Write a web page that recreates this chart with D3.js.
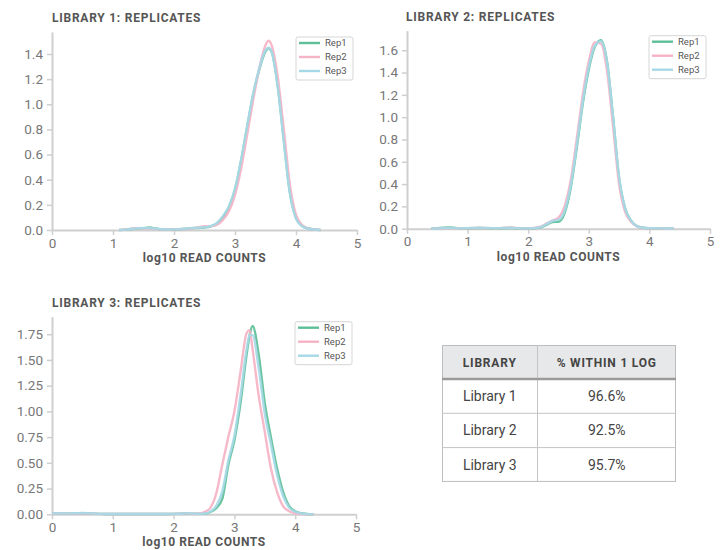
<!DOCTYPE html>
<html><head><meta charset="utf-8">
<script src="https://cdn.jsdelivr.net/npm/d3@7"></script>
<style>
body{margin:0;background:#fff;}
svg text{font-family:Roboto,"DejaVu Sans",sans-serif;}
</style></head><body>
<svg id="c" width="724" height="550"></svg>
<script>
// ---------- DATA ----------
const seriesNames = ["Rep1", "Rep2", "Rep3"];
const seriesColors = ["#5dbf98", "#f5b3c5", "#a6d9e6"];
const xTicks = [0, 1, 2, 3, 4, 5];

// Library 1
const lib1X = [1.1,1.2,1.3,1.4,1.5,1.6,1.7,1.8,1.9,2.0,2.1,2.2,2.3,2.4,2.5,2.6,2.7,2.8,2.9,3.0,3.1,3.2,3.3,3.4,3.5,3.55,3.6,3.7,3.8,3.9,4.0,4.1,4.2,4.3,4.4];
const lib1Rep1 = [0.0,0.003,0.008,0.012,0.014,0.02,0.012,0.005,0.003,0.004,0.006,0.01,0.015,0.016,0.02,0.028,0.05,0.10,0.18,0.32,0.55,0.82,1.08,1.28,1.42,1.445,1.42,1.15,0.72,0.30,0.10,0.035,0.012,0.005,0.0];
const lib1Rep2 = [0.0,0.004,0.01,0.015,0.012,0.01,0.008,0.005,0.004,0.005,0.006,0.008,0.014,0.022,0.03,0.03,0.04,0.08,0.15,0.28,0.49,0.76,1.04,1.29,1.47,1.505,1.47,1.22,0.80,0.36,0.12,0.04,0.012,0.004,0.0];
const lib1Rep3 = [0.0,0.003,0.008,0.013,0.016,0.014,0.01,0.006,0.004,0.005,0.007,0.01,0.016,0.018,0.022,0.03,0.055,0.11,0.19,0.33,0.56,0.83,1.09,1.29,1.43,1.45,1.42,1.14,0.70,0.29,0.09,0.03,0.01,0.004,0.0];
const lib1YTicks = [0,0.2,0.4,0.6,0.8,1.0,1.2,1.4];

// Library 2
const lib2X = [0.4,0.5,0.6,0.7,0.8,0.9,1.0,1.1,1.2,1.3,1.4,1.5,1.6,1.7,1.8,1.9,2.0,2.1,2.2,2.3,2.4,2.5,2.6,2.7,2.8,2.9,3.0,3.1,3.2,3.3,3.4,3.5,3.6,3.7,3.8,3.9,4.0,4.1,4.2,4.3,4.4];
const lib2Rep1 = [0,0.004,0.009,0.011,0.007,0.003,0.003,0.005,0.006,0.005,0.004,0.003,0.004,0.006,0.004,0.002,0.002,0.004,0.012,0.035,0.06,0.062,0.14,0.36,0.72,1.12,1.43,1.63,1.69,1.50,1.00,0.45,0.18,0.07,0.02,0.008,0.005,0.004,0.003,0.002,0];
const lib2Rep2 = [0,0.002,0.004,0.005,0.004,0.003,0.004,0.006,0.007,0.006,0.005,0.005,0.008,0.011,0.007,0.003,0.003,0.006,0.018,0.045,0.072,0.10,0.20,0.43,0.80,1.20,1.50,1.67,1.66,1.42,0.92,0.40,0.15,0.06,0.02,0.007,0.004,0.003,0.002,0.001,0];
const lib2Rep3 = [0,0.002,0.005,0.006,0.004,0.003,0.005,0.007,0.008,0.007,0.005,0.004,0.006,0.008,0.005,0.003,0.003,0.005,0.014,0.04,0.07,0.08,0.16,0.38,0.74,1.14,1.45,1.64,1.68,1.49,1.00,0.46,0.18,0.07,0.02,0.008,0.005,0.004,0.003,0.002,0];
const lib2YTicks = [0,0.2,0.4,0.6,0.8,1.0,1.2,1.4,1.6];

// Library 3
const lib3X = [0.0,0.1,0.2,0.3,0.4,0.5,0.6,0.7,0.8,0.9,1.0,1.1,1.2,1.3,1.4,1.5,1.6,1.7,1.8,1.9,2.0,2.1,2.2,2.3,2.4,2.5,2.6,2.7,2.8,2.9,3.0,3.1,3.2,3.25,3.3,3.4,3.5,3.6,3.7,3.8,3.9,4.0,4.1,4.2,4.3];
const lib3Rep1 = [0.008,0.007,0.006,0.006,0.008,0.01,0.009,0.006,0.004,0.003,0.003,0.003,0.003,0.003,0.003,0.003,0.003,0.003,0.003,0.003,0.004,0.006,0.008,0.006,0.004,0.006,0.02,0.06,0.15,0.48,0.72,1.08,1.55,1.74,1.83,1.55,1.08,0.75,0.45,0.22,0.08,0.03,0.01,0.003,0];
const lib3Rep2 = [0.006,0.006,0.005,0.005,0.006,0.008,0.007,0.005,0.004,0.003,0.003,0.003,0.003,0.003,0.003,0.003,0.003,0.003,0.003,0.003,0.004,0.006,0.007,0.006,0.008,0.02,0.06,0.20,0.48,0.75,1.00,1.38,1.76,1.79,1.60,1.15,0.80,0.45,0.22,0.08,0.03,0.01,0.003,0,0];
const lib3Rep3 = [0.008,0.008,0.007,0.008,0.01,0.012,0.01,0.007,0.004,0.003,0.003,0.003,0.003,0.003,0.003,0.003,0.003,0.003,0.003,0.003,0.004,0.006,0.009,0.007,0.005,0.006,0.025,0.08,0.22,0.52,0.76,1.15,1.60,1.74,1.74,1.42,0.98,0.68,0.39,0.18,0.065,0.025,0.008,0.002,0];
const lib3YTicks = [0,0.25,0.5,0.75,1.0,1.25,1.5,1.75];

// Table
const tableHeaders = ["LIBRARY", "% WITHIN 1 LOG"];
const tableLibraries = ["Library 1", "Library 2", "Library 3"];
const tableValues = ["96.6%", "92.5%", "95.7%"];

// ---------- DRAW ----------
const svg = d3.select('#c');

function drawChart(o) {
  const g = svg.append('g');
  const x = d3.scaleLinear().domain([0,5]).range([o.x0, o.x1]);
  const y = d3.scaleLinear().domain([0,o.yMax]).range([o.y0, o.yTop]);

  g.append('text').attr('x', o.tx).attr('y', o.ty)
    .attr('font-size', 12).attr('font-weight', 700).attr('fill', '#555')
    .attr('letter-spacing', 0.75).text(o.title);

  const xa = g.append('g').attr('transform', `translate(0,${o.y0})`)
    .call(d3.axisBottom(x).tickValues(xTicks).tickFormat(d3.format('d')).tickSize(5).tickSizeOuter(0).tickPadding(3));
  const ya = g.append('g').attr('transform', `translate(${o.x0},0)`)
    .call(d3.axisLeft(y).tickValues(o.yTicks).tickFormat(d3.format(o.yFmt)).tickSize(5).tickSizeOuter(0).tickPadding(4));
  [xa, ya].forEach(a => {
    a.select('.domain').attr('stroke', '#cfcfcf').attr('stroke-width', 2);
    a.selectAll('.tick line').attr('stroke', '#cfcfcf').attr('stroke-width', 1.5);
    a.selectAll('.tick text').attr('fill', '#777').attr('font-size', 13.5).attr('font-family', 'Roboto');
  });

  g.append('text').attr('x', (o.x0 + o.x1) / 2).attr('y', o.y0 + 32)
    .attr('text-anchor', 'middle').attr('font-size', 12).attr('font-weight', 700)
    .attr('fill', '#555').attr('letter-spacing', 0.55).text('log10 READ COUNTS');

  const line = d3.line().x((d, i) => x(o.xs[i])).y(d => y(d)).curve(d3.curveMonotoneX);
  o.series.forEach((s, i) => {
    g.append('path').datum(s).attr('d', line).attr('fill', 'none')
      .attr('stroke', seriesColors[i]).attr('stroke-width', 2.4).attr('stroke-opacity', 0.92)
      .attr('stroke-linejoin', 'round');
  });

  // legend
  const lx = o.x1 - 61, ly = o.yTop + 5;
  const lg = g.append('g').attr('transform', `translate(${lx},${ly})`);
  lg.append('rect').attr('width', 57).attr('height', 43).attr('rx', 2)
    .attr('fill', '#fff').attr('fill-opacity', 0.85).attr('stroke', '#d6d6d6');
  seriesNames.forEach((n, i) => {
    const yy = 6 + i * 14;
    lg.append('line').attr('x1', 3).attr('x2', 24).attr('y1', yy).attr('y2', yy)
      .attr('stroke', seriesColors[i]).attr('stroke-width', 2.4);
    lg.append('text').attr('x', 29).attr('y', yy + 3.3).attr('font-size', 9.5)
      .attr('fill', '#555').text(n);
  });
}

drawChart({title: 'LIBRARY 1: REPLICATES', tx: 52, ty: 22, x0: 52, x1: 357, y0: 230, yTop: 32,
  yMax: 1.575, yTicks: lib1YTicks, yFmt: '.1f', xs: lib1X, series: [lib1Rep1, lib1Rep2, lib1Rep3]});
drawChart({title: 'LIBRARY 2: REPLICATES', tx: 406, ty: 21, x0: 407, x1: 710, y0: 228.7, yTop: 30.7,
  yMax: 1.775, yTicks: lib2YTicks, yFmt: '.1f', xs: lib2X, series: [lib2Rep1, lib2Rep2, lib2Rep3]});
drawChart({title: 'LIBRARY 3: REPLICATES', tx: 52, ty: 307, x0: 52, x1: 356, y0: 514.3, yTop: 316.7,
  yMax: 1.92, yTicks: lib3YTicks, yFmt: '.2f', xs: lib3X, series: [lib3Rep1, lib3Rep2, lib3Rep3]});

// table
(function(){
  const left = 442, right = 676, top = 345, headH = 34, rowH = 34.3, colX = 537.5;
  const t = svg.append('g');
  t.append('rect').attr('x', left).attr('y', top).attr('width', right - left).attr('height', headH)
    .attr('fill', '#e7e8ea');
  const bottom = top + headH + rowH * tableLibraries.length;
  t.append('rect').attr('x', left + 0.5).attr('y', top + 0.5).attr('width', right - left - 1)
    .attr('height', bottom - top - 1).attr('fill', 'none').attr('stroke', '#bdbdbd');
  t.append('line').attr('x1', colX).attr('x2', colX).attr('y1', top).attr('y2', bottom)
    .attr('stroke', '#c4c4c4');
  tableLibraries.forEach((l, i) => {
    if (i > 0) {
      const yy = top + headH + rowH * i;
      t.append('line').attr('x1', left).attr('x2', right).attr('y1', yy).attr('y2', yy).attr('stroke', '#c4c4c4');
    }
  });
  t.append('line').attr('x1', left).attr('x2', right).attr('y1', top + headH).attr('y2', top + headH)
    .attr('stroke', '#9a9a9a').attr('stroke-width', 2.5);
  const c1 = (left + colX) / 2, c2 = (colX + right) / 2;
  [c1, c2].forEach((cx, i) => {
    t.append('text').attr('x', cx).attr('y', top + headH / 2 + 4.5).attr('text-anchor', 'middle')
      .attr('font-size', 12).attr('font-weight', 700).attr('letter-spacing', 0.8).attr('fill', '#444')
      .text(tableHeaders[i]);
  });
  tableLibraries.forEach((l, i) => {
    const cy = top + headH + rowH * i + rowH / 2 + 5;
    t.append('text').attr('x', c1).attr('y', cy).attr('text-anchor', 'middle')
      .attr('font-size', 14).attr('fill', '#444').text(l);
    t.append('text').attr('x', c2).attr('y', cy).attr('text-anchor', 'middle')
      .attr('font-size', 14).attr('fill', '#444').text(tableValues[i]);
  });
})();
</script>
</body></html>
